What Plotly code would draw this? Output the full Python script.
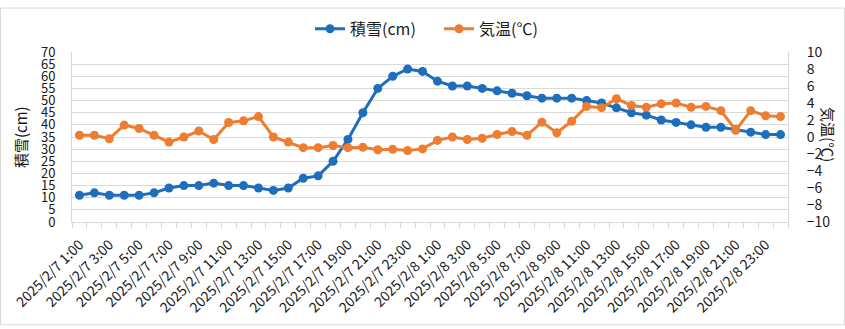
import plotly.graph_objects as go

# Categories: hourly from 2025/2/7 1:00 to 2025/2/9 0:00
categories = ([f"2025/2/7 {h}:00" for h in range(1, 24)]
              + [f"2025/2/8 {h}:00" for h in range(0, 24)]
              + ["2025/2/9 0:00"])

snow_cm = [11, 12, 11, 11, 11, 12, 14, 15, 15, 16, 15, 15, 14, 13, 14, 18,
           19, 25, 34, 45, 55, 60, 63, 62, 58, 56, 56, 55, 54, 53, 52, 51,
           51, 51, 50, 49, 47, 45, 44, 42, 41, 40, 39, 39, 38, 37, 36, 36]

temp_c = [0.2, 0.2, -0.2, 1.4, 1.0, 0.2, -0.6, 0.0, 0.7, -0.3, 1.7, 1.9,
          2.4, 0.0, -0.6, -1.25, -1.25, -1.0, -1.25, -1.2, -1.5, -1.45, -1.6, -1.4,
          -0.4, 0.0, -0.3, -0.15, 0.3, 0.65, 0.2, 1.75, 0.5, 1.85, 3.6, 3.45,
          4.5, 3.7, 3.5, 3.9, 4.0, 3.5, 3.6, 3.1, 0.8, 3.1, 2.5, 2.4]

tick_text = [c if i % 2 == 0 else "" for i, c in enumerate(categories)]

FONT = "Noto Sans CJK JP"
BLUE = "#1F6EBC"
ORANGE = "#ED7D31"
GRID = "#D9D9D9"
TXT = "#1a1a1a"

# plot area geometry (pixels)
W, H = 845, 329
L, R, T, B = 72, 788, 46, 222
pw, ph = R - L, B - T

fig = go.Figure()
fig.add_trace(go.Scatter(x=categories, y=snow_cm, name="積雪(cm)", mode="lines+markers",
                         line=dict(color=BLUE, width=3), marker=dict(size=9, color=BLUE),
                         yaxis="y"))
fig.add_trace(go.Scatter(x=categories, y=temp_c, name="気温(℃)", mode="lines+markers",
                         line=dict(color=ORANGE, width=3), marker=dict(size=9, color=ORANGE),
                         yaxis="y2"))

fig.update_layout(
    width=W, height=H,
    margin=dict(l=L, r=W - R, t=T, b=H - B, pad=0),
    paper_bgcolor="white", plot_bgcolor="white",
    font=dict(family=FONT, size=14, color=TXT),
    showlegend=True,
    legend=dict(orientation="h", x=0.5 + 9 / pw, xanchor="center",
                y=(B - 22) / ph, yanchor="middle",
                font=dict(size=16, color=TXT), bgcolor="rgba(0,0,0,0)",
                entrywidth=84, entrywidthmode="pixels", tracegroupgap=0),
    xaxis=dict(type="category", tickmode="array", tickvals=categories, ticktext=tick_text,
               tickson="boundaries", ticks="outside", ticklen=5, tickcolor=GRID,
               tickangle=-45, tickfont=dict(size=14, color=TXT), ticklabelstandoff=8,
               showline=True, linecolor=GRID, linewidth=1,
               showgrid=False, zeroline=False, range=[-0.5, len(categories) - 0.5]),
    yaxis=dict(range=[0, 70], dtick=5, showgrid=True, gridcolor=GRID, gridwidth=1,
               zeroline=False, showline=True, linecolor=GRID, linewidth=1,
               ticks="", ticklabelstandoff=13, tickfont=dict(size=13, color=TXT)),
    yaxis2=dict(range=[-10, 10], dtick=2, overlaying="y", side="right",
                showgrid=False, zeroline=False, showline=True, linecolor=GRID, linewidth=1,
                ticks="", ticklabelstandoff=15, tickfont=dict(size=14, color=TXT)),
    annotations=[
        dict(text="積雪(cm)", xref="paper", yref="paper",
             x=(20 - L) / pw, y=(B - 134) / ph, textangle=-90, showarrow=False,
             font=dict(size=15, color=TXT), xanchor="center", yanchor="middle"),
        dict(text="気温(℃)", xref="paper", yref="paper",
             x=(829 - L) / pw, y=(B - 131) / ph, textangle=90, showarrow=False,
             font=dict(size=15, color=TXT), xanchor="center", yanchor="middle"),
    ],
    shapes=[
        dict(type="rect", xref="paper", yref="paper",
             x0=(0.5 - L) / pw, x1=(W - 0.5 - L) / pw,
             y0=(B - (H - 0.5)) / ph, y1=(B - 0.5) / ph,
             line=dict(color=GRID, width=1), fillcolor="rgba(0,0,0,0)", layer="below"),
    ],
)

fig.write_html("out.html")
